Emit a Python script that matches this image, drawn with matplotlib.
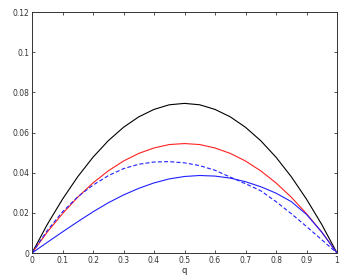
import matplotlib
matplotlib.use("Agg")
import matplotlib.pyplot as plt

# values
q = [0.0, 0.05, 0.1, 0.15, 0.2, 0.25, 0.3, 0.35, 0.4, 0.45, 0.5,
     0.55, 0.6, 0.65, 0.7, 0.75, 0.8, 0.85, 0.9, 0.95, 1.0]
black = [0, 0.0142, 0.0268, 0.0380, 0.0477, 0.0559, 0.0626, 0.0678, 0.0715, 0.0738, 0.0745,
         0.0738, 0.0715, 0.0678, 0.0626, 0.0559, 0.0477, 0.0380, 0.0268, 0.0142, 0]
red = [0, 0.0104, 0.0196, 0.0278, 0.0349, 0.0409, 0.0458, 0.0496, 0.0523, 0.0540, 0.0545,
       0.0540, 0.0523, 0.0496, 0.0458, 0.0409, 0.0349, 0.0278, 0.0196, 0.0104, 0]
blue_dashed = [0, 0.0112, 0.0205, 0.0280, 0.0338, 0.0385, 0.0420, 0.0442, 0.0453, 0.0455, 0.0449,
               0.0435, 0.0412, 0.0378, 0.0345, 0.0310, 0.0256, 0.0196, 0.0132, 0.0066, 0]
blue = [0, 0.0053, 0.0105, 0.0156, 0.0205, 0.0250, 0.0289, 0.0322, 0.0349, 0.0369, 0.0381,
        0.0386, 0.0383, 0.0373, 0.0355, 0.0330, 0.0298, 0.0256, 0.0192, 0.0104, 0]

xticks = [0, 0.1, 0.2, 0.3, 0.4, 0.5, 0.6, 0.7, 0.8, 0.9, 1]
xlabels = ["0", "0.1", "0.2", "0.3", "0.4", "0.5", "0.6", "0.7", "0.8", "0.9", "1"]
yticks = [0, 0.02, 0.04, 0.06, 0.08, 0.1, 0.12]
ylabels = ["0", "0.02", "0.04", "0.06", "0.08", "0.1", "0.12"]

fig = plt.figure(figsize=(3.54, 2.76), dpi=100)
ax = fig.add_axes([0.0904, 0.0833, 0.8616, 0.8732])

ax.plot(q, black, color="#000000", lw=0.8)
ax.plot(q, red, color="#ff2020", lw=0.8)
ax.plot(q, blue_dashed, color="#2020ff", lw=0.8, linestyle=(0, (3.6, 2)))
ax.plot(q, blue, color="#2020ff", lw=0.8)

ax.set_xlim(0, 1)
ax.set_ylim(0, 0.12)
ax.set_xticks(xticks)
ax.set_xticklabels(xlabels)
ax.set_yticks(yticks)
ax.set_yticklabels(ylabels)
ax.tick_params(direction="in", top=True, right=True, length=2.5, width=0.6,
               labelsize=5.5, labelcolor="#333333", color="#333333", pad=2)
for s in ax.spines.values():
    s.set_linewidth(0.7)
    s.set_color("#333333")
ax.set_xlabel("q", fontsize=6, color="#222222", labelpad=1)

plt.savefig("out.png", dpi=100)
